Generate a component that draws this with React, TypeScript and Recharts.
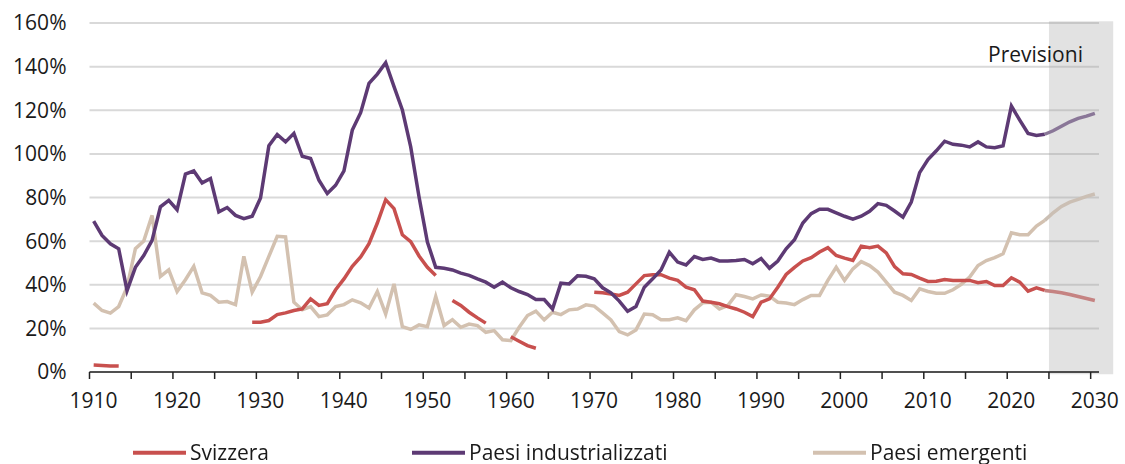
import React from "react";
import {
  LineChart,
  Line,
  XAxis,
  YAxis,
  CartesianGrid,
  ReferenceArea,
} from "recharts";

const startYear = 1910;
const lastHistoricYear = 2024;

// % del PIL, un valore per anno dal 1910 al 2030 (null = dato mancante)
const svizzera: (number | null)[] = [
  3.2, 3.0, 2.8, 2.7,
  null, null, null, null, null, null, null, null, null, null, null, null, null, null, null,
  22.8, 22.8, 23.6, 26.3, 27.1, 28.2, 28.9, 33.5, 30.5, 31.3, 37.7,
  42.7, 48.5, 52.7, 58.8, 68.3, 79.0, 74.9, 62.9, 59.8, 53.2,
  48.0, 44.2,
  null,
  32.8, 30.5, 27.4, 24.8, 22.4,
  null, null,
  16.2, 14.1, 12.1, 10.9,
  null, null, null, null, null, null,
  36.6, 36.3, 35.8, 35.1, 36.6, 40.4, 44.2, 44.6, 44.6, 43.0,
  42.0, 38.9, 37.7, 32.5, 32.0, 31.3, 30.0, 28.9, 27.4, 25.4,
  32.0, 33.5, 38.9, 44.7, 48.0, 50.9, 52.4, 55.0, 57.0, 53.4,
  52.2, 51.1, 57.7, 57.0, 57.7, 54.6, 48.3, 45.0, 44.7, 43.0,
  41.5, 41.6, 42.4, 42.0, 42.0, 42.0, 40.9, 41.5, 39.6, 39.6,
  43.2, 41.2, 37.1, 38.6, 37.4, 36.9, 36.3, 35.5, 34.6, 33.7, 32.8,
];

const industrializzati: number[] = [
  69.2, 62.6, 58.8, 56.5, 37.3, 48.0, 53.4, 60.3, 75.7, 78.7,
  74.4, 90.7, 92.2, 86.7, 88.7, 73.4, 75.4, 71.8, 70.3, 71.4,
  79.8, 103.7, 108.9, 105.5, 109.4, 98.9, 97.9, 87.9, 81.8, 85.6,
  92.2, 110.9, 118.9, 132.3, 136.6, 141.8, 130.8, 120.1, 103.2, 80.2,
  59.6, 48.0, 47.6, 46.8, 45.3, 44.3, 42.7, 41.2, 38.9, 41.2,
  38.6, 36.9, 35.5, 33.2, 33.2, 28.9, 40.7, 40.4, 44.1, 43.9,
  42.7, 38.6, 36.3, 32.5, 27.8, 30.0, 38.9, 42.7, 46.8, 54.9,
  50.4, 49.1, 52.9, 51.6, 52.2, 50.9, 50.9, 51.1, 51.6, 49.6,
  52.0, 47.6, 50.9, 56.5, 60.6, 68.3, 72.6, 74.6, 74.6, 73.0,
  71.4, 70.1, 71.4, 73.7, 77.2, 76.4, 73.8, 71.0, 77.9, 91.4,
  97.4, 101.4, 105.8, 104.4, 104.0, 103.2, 105.5, 103.2, 102.8, 103.7,
  121.9, 115.5, 109.4, 108.4, 109.0, 110.6, 112.7, 114.7, 116.3, 117.3, 118.6,
];

const emergenti: number[] = [
  31.6, 28.2, 27.0, 30.0, 38.9, 56.5, 60.0, 71.8, 43.8, 46.8,
  36.9, 42.3, 48.4, 36.3, 35.1, 32.0, 32.3, 30.9, 53.0, 36.6,
  43.8, 53.0, 62.2, 61.9, 32.0, 28.5, 30.0, 25.4, 26.2, 30.0,
  30.9, 33.1, 31.7, 29.3, 36.9, 26.6, 40.4, 20.8, 19.5, 21.6,
  20.8, 34.6, 21.3, 24.0, 20.5, 22.0, 21.3, 18.2, 19.0, 14.8,
  14.4, 20.5, 25.9, 27.9, 23.9, 27.4, 26.3, 28.5, 28.9, 30.8,
  30.2, 27.1, 23.9, 18.5, 17.0, 19.3, 26.6, 26.3, 24.0, 24.0,
  24.8, 23.5, 28.5, 31.7, 32.0, 28.9, 30.5, 35.4, 34.6, 33.5,
  35.3, 34.8, 32.0, 31.6, 30.9, 33.2, 35.1, 35.1, 42.0, 48.0,
  42.0, 47.3, 50.6, 48.8, 45.8, 41.2, 36.6, 35.1, 32.8, 38.1,
  36.9, 36.1, 36.1, 37.7, 40.2, 43.5, 48.8, 51.1, 52.4, 54.2,
  63.8, 62.9, 62.9, 66.9, 69.5, 73.0, 75.9, 77.9, 79.1, 80.5, 81.6,
];

const xTicks = [
  1910, 1915, 1920, 1925, 1930, 1935, 1940, 1945, 1950, 1955, 1960, 1965,
  1970, 1975, 1980, 1985, 1990, 1995, 2000, 2005, 2010, 2015, 2020, 2025, 2030,
];
const yTicks = [0, 20, 40, 60, 80, 100, 120, 140, 160];

const legendItems = [
  { name: "Svizzera", color: "#c8504e", left: 133 },
  { name: "Paesi industrializzati", color: "#5d3a74", left: 412 },
  { name: "Paesi emergenti", color: "#d3c1b0", left: 813 },
];

const FONT = "'Open Sans', sans-serif";

// each year is plotted in the middle of its slot, ticks sit on the slot borders
const data = svizzera.map((_, i) => {
  const year = startYear + i;
  const hist = year <= lastHistoricYear;
  const fc = year >= lastHistoricYear;
  return {
    x: year + 0.5,
    sv: hist ? svizzera[i] : null,
    pi: hist ? industrializzati[i] : null,
    pe: hist ? emergenti[i] : null,
    svF: fc ? svizzera[i] : null,
    piF: fc ? industrializzati[i] : null,
    peF: fc ? emergenti[i] : null,
  };
});

const YearTick = (props: any) => {
  const { x, y, payload } = props;
  if (payload.value % 10 !== 0) return null;
  return (
    <text
      x={x + 4}
      y={y}
      dy="0.71em"
      textAnchor="middle"
      fontSize={21}
      fontFamily={FONT}
      fill="#1a1a1a"
    >
      {payload.value}
    </text>
  );
};

const ForecastLabel = (props: any) => {
  const vb = props.viewBox || {};
  return (
    <text
      x={vb.x + 34}
      y={vb.y + 41}
      textAnchor="end"
      fontSize={21}
      fontFamily={FONT}
      fill="#1a1a1a"
    >
      Previsioni
    </text>
  );
};

export default function App() {
  return (
    <div
      style={{
        position: "fixed",
        left: 0,
        top: 0,
        width: 1125,
        height: 464,
        background: "#fff",
      }}
    >
      <LineChart
        width={1125}
        height={464}
        data={data}
        margin={{ top: 23, right: 26, bottom: 52, left: 0 }}
      >
        <CartesianGrid
          vertical={false}
          stroke="#d9d9d9"
          strokeWidth={2}
        />
        <ReferenceArea
          x1={2025}
          x2={2032.7}
          y1={-1}
          y2={160.8}
          ifOverflow="visible"
          fill="#a0a0a0"
          fillOpacity={0.3}
          stroke="none"
          label={ForecastLabel}
        />
        <XAxis
          type="number"
          dataKey="x"
          domain={[1910, 2031]}
          ticks={xTicks}
          interval={0}
          height={40}
          tick={<YearTick />}
          tickSize={7}
          tickMargin={14}
          stroke="#222"
          strokeWidth={1.5}
          tickLine={{ stroke: "#222", strokeWidth: 1.5 }}
        />
        <YAxis
          domain={[0, 160]}
          ticks={yTicks}
          width={89.5}
          axisLine={false}
          tickLine={false}
          tickSize={0}
          tickMargin={23}
          tickFormatter={(v) => `${v}%`}
          tick={{ fontSize: 21, fontFamily: FONT, fill: "#1a1a1a" }}
        />
        <Line type="linear" dataKey="pe" stroke="#d3c1b0" strokeWidth={3.5} dot={false} connectNulls={false} isAnimationActive={false} />
        <Line type="linear" dataKey="sv" stroke="#c8504e" strokeWidth={3.5} dot={false} connectNulls={false} isAnimationActive={false} />
        <Line type="linear" dataKey="pi" stroke="#5d3a74" strokeWidth={3.5} dot={false} connectNulls={false} isAnimationActive={false} />
        <Line type="linear" dataKey="peF" stroke="#cbbfb4" strokeWidth={3.5} dot={false} isAnimationActive={false} />
        <Line type="linear" dataKey="svF" stroke="#c58382" strokeWidth={3.5} dot={false} isAnimationActive={false} />
        <Line type="linear" dataKey="piF" stroke="#8a7798" strokeWidth={3.5} dot={false} isAnimationActive={false} />
      </LineChart>
      <svg
        width={1125}
        height={30}
        style={{ position: "absolute", left: 0, top: 438 }}
      >
        {legendItems.map((it) => (
          <g key={it.name}>
            <line
              x1={it.left}
              x2={it.left + 53}
              y1={14.7}
              y2={14.7}
              stroke={it.color}
              strokeWidth={4}
            />
            <text
              x={it.left + 57}
              y={22}
              fontSize={21}
              fontFamily={FONT}
              fill="#1a1a1a"
            >
              {it.name}
            </text>
          </g>
        ))}
      </svg>
    </div>
  );
}
